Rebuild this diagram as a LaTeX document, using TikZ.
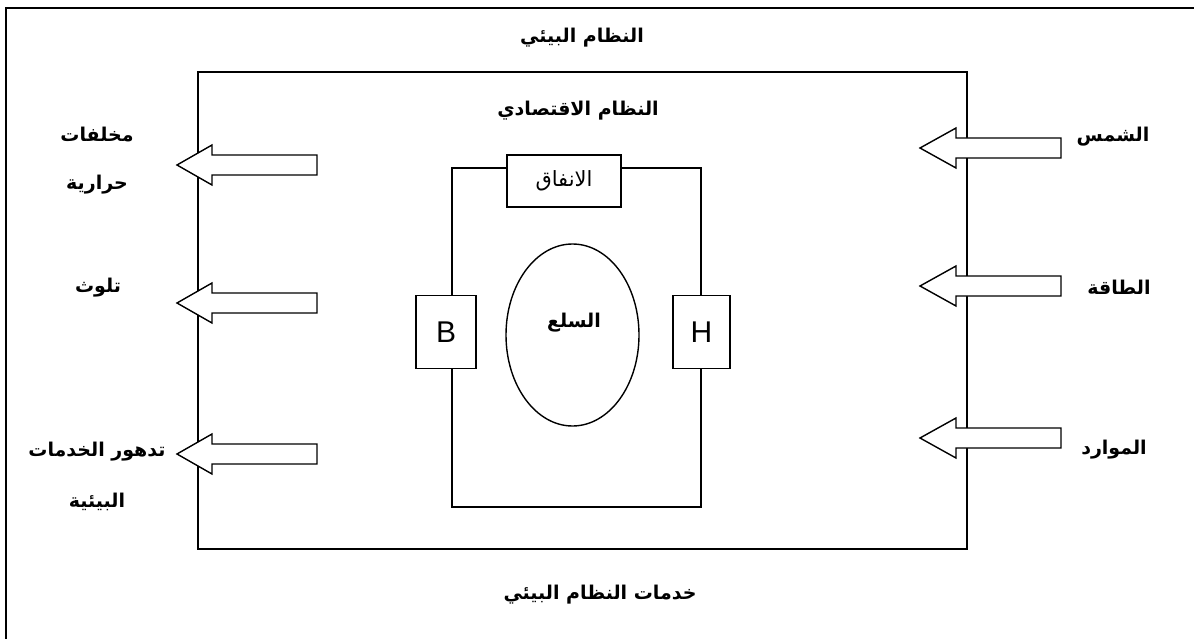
\documentclass[tikz,border=0pt]{standalone}
\usepackage{fontspec}
\setmainfont{Liberation Sans}
\newfontfamily\arabicfont[Script=Arabic]{DejaVu Sans}
\TeXXeTstate=1
\usetikzlibrary{shapes.geometric}

\begin{document}
\begin{tikzpicture}
  [x=1pt, y=-1pt,
   frame/.style={draw, line width=1.7pt},
   box/.style={draw, line width=1.4pt, fill=white, inner sep=0pt},
   fatarrow/.style={draw, line width=1.4pt, fill=white},
   label/.style={font=\arabicfont\bfseries\fontsize{19}{22}\selectfont, inner sep=0pt},
   letter/.style={font=\fontsize{30}{32}\selectfont}]
  \useasboundingbox (0,0) rectangle (1194,639);
  % frames
  \draw [frame] (1200,8) -- (6,8) -- (6,645);
  \draw [frame] (198,72) rectangle (967,549);
  \draw [line width=1.4pt] (452,168) rectangle (701,507);
  % titles
  \node (eco) at (582,38) [label] {\beginR النظام البيئي\endR};
  \node (econ) at (578,111) [label] {\beginR النظام الاقتصادي\endR};
  \node (serv) at (600,595) [label] {\beginR خدمات النظام البيئي\endR};
  % inner loop
  \node (spend) at (564,181) [box, minimum width=114pt, minimum height=52pt,
    font=\arabicfont\fontsize{21}{24}\selectfont] {\beginR الانفاق\endR};
  \node (b) at (446,332) [box, minimum width=60pt, minimum height=73pt, letter] {B};
  \node (h) at (701.5,332) [box, minimum width=57pt, minimum height=73pt, letter] {H};
  \node (goods) at (572.5,335) [ellipse, draw, line width=1.4pt, minimum width=133pt,
    minimum height=182pt, inner sep=0pt] {};
  \node at (574,323) [label] {\beginR السلع\endR};
  % outputs
  \foreach \y in {165, 303, 454}
    \draw [fatarrow] (317,\y) ++(0,-10) -- ++(-105,0) -- ++(0,-10) -- ++(-35,20)
      -- ++(35,20) -- ++(0,-10) -- ++(105,0) -- cycle;
  \node (heat1) at (97,135) [label] {\beginR مخلفات\endR};
  \node (heat2) at (97,185) [label] {\beginR حرارية\endR};
  \node (poll) at (98,288) [label] {\beginR تلوث\endR};
  \node (degr1) at (97,452) [label] {\beginR تدهور الخدمات\endR};
  \node (degr2) at (97,502) [label] {\beginR البيئية\endR};
  % inputs
  \foreach \y in {148, 286, 438}
    \draw [fatarrow] (1061,\y) ++(0,-10) -- ++(-105,0) -- ++(0,-10) -- ++(-36,20)
      -- ++(36,20) -- ++(0,-10) -- ++(105,0) -- cycle;
  \node (sun) at (1113,137) [label] {\beginR الشمس\endR};
  \node (energy) at (1119,287) [label] {\beginR الطاقة\endR};
  \node (res) at (1114,450) [label] {\beginR الموارد\endR};
\end{tikzpicture}
\end{document}
